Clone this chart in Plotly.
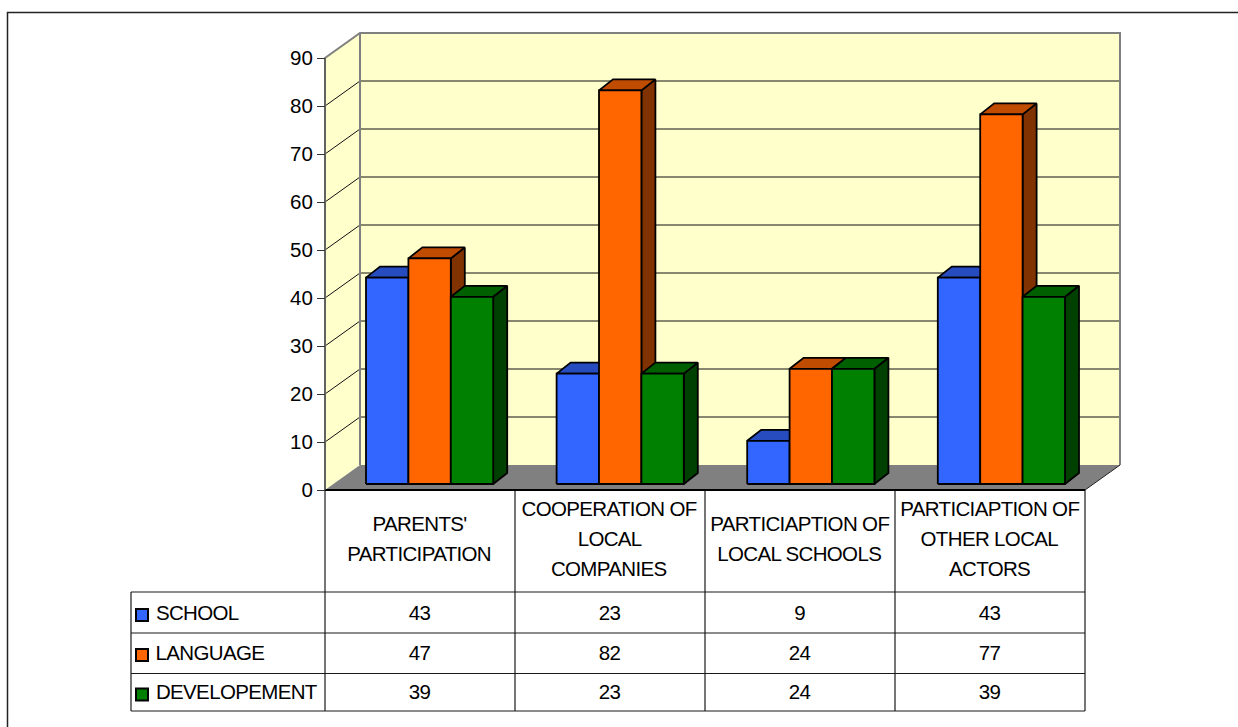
import plotly.graph_objects as go

categories = [
    ["PARENTS'", "PARTICIPATION"],
    ["COOPERATION OF", "LOCAL", "COMPANIES"],
    ["PARTICIAPTION OF", "LOCAL SCHOOLS"],
    ["PARTICIAPTION OF", "OTHER LOCAL", "ACTORS"],
]
school = [43, 23, 9, 43]
language = [47, 82, 24, 77]
developement = [39, 23, 24, 39]
series_names = ["SCHOOL", "LANGUAGE", "DEVELOPEMENT"]
y_ticks = [0, 10, 20, 30, 40, 50, 60, 70, 80, 90]

W, H = 1238, 727
CAT_PX, VAL_PX = 190.0, 4.8   # pixels per category / per value unit
X0, Y0 = 325.0, 490.0         # pixel of category 0 / value 0
FONT = "Liberation Sans, Arial, sans-serif"
FS = 20.5
TRACK = 0.65                  # letter tightening of the table text, px


def ux(p):
    return p / CAT_PX


def uy(p):
    return p / VAL_PX


n_cat = len(categories)
y_max = y_ticks[-1]
wall_dx, wall_dy = ux(35), uy(25)

faces = [
    dict(front="#3366FF", top="#264CBF", side="#1A3380"),
    dict(front="#FF6600", top="#BF4C00", side="#803300"),
    dict(front="#008000", top="#006000", side="#004000"),
]
all_values = [school, language, developement]

fig = go.Figure()


def poly(xs, ys, fill, line=None, width=0, name=""):
    fig.add_trace(go.Scatter(
        x=xs, y=ys, mode="lines", fill="toself", fillcolor=fill,
        line=dict(color=line or fill, width=width), name=name,
        hoverinfo="skip", showlegend=False))


def path(xs, ys, color, width, name=""):
    fig.add_trace(go.Scatter(
        x=xs, y=ys, mode="lines", line=dict(color=color, width=width), name=name,
        hoverinfo="skip", showlegend=False))


# walls and floor
poly([0, wall_dx, wall_dx, 0, 0], [y_max, y_max + wall_dy, wall_dy, 0, y_max], "#FFFFCC", name="side wall")
poly([wall_dx, n_cat + wall_dx, n_cat + wall_dx, wall_dx, wall_dx],
     [wall_dy, wall_dy, y_max + wall_dy, y_max + wall_dy, wall_dy], "#FFFFCC", name="back wall")
poly([0, wall_dx, n_cat + wall_dx, n_cat, 0], [0, wall_dy, wall_dy, 0, 0], "#808080", name="floor")

# gridlines
gx, gy = [], []
for t in y_ticks[1:-1]:
    gx += [0, wall_dx, n_cat + wall_dx, None]
    gy += [t, t + wall_dy, t + wall_dy, None]
path(gx, gy, "#111111", 1, "grid")

# wall outlines
path([0, 0, wall_dx, n_cat + wall_dx, n_cat + wall_dx],
     [0, y_max, y_max + wall_dy, y_max + wall_dy, wall_dy], "#808080", 2, "wall edge")
path([wall_dx, wall_dx], [wall_dy, y_max + wall_dy], "#808080", 2, "wall edge")
path([n_cat, n_cat + wall_dx], [0, wall_dy], "#222222", 1, "floor edge")

# bars
bar_w = ux(42.4)
bar_step = ux(190.6)
bar_off, base = ux(41), uy(6)
d_x, d_y = ux(14), uy(11)
for s, values in enumerate(all_values):
    fx, fy, tx, ty, sx, sy = [], [], [], [], [], []
    for c, v in enumerate(values):
        l = c * bar_step + bar_off + s * bar_w
        r = l + bar_w
        top = base + v
        fx += [l, r, r, l, l, None]
        fy += [base, base, top, top, base, None]
        tx += [l, r, r + d_x, l + d_x, l, None]
        ty += [top, top, top + d_y, top + d_y, top, None]
        sx += [r, r + d_x, r + d_x, r, r, None]
        sy += [base, base + d_y, top + d_y, top, base, None]
    poly(sx, sy, faces[s]["side"], "black", 1.8, series_names[s] + " side")
    poly(tx, ty, faces[s]["top"], "black", 1.8, series_names[s] + " top")
    poly(fx, fy, faces[s]["front"], "black", 1.8, series_names[s])

# table
row_ys = [uy(-102), uy(-143), uy(-183.5), uy(-221)]
leg_x = ux(131 - X0)
tx, ty = [], []
for c in range(n_cat + 1):
    tx += [c, c, None]
    ty += [0, row_ys[-1], None]
tx += [leg_x, leg_x, None]
ty += [row_ys[0], row_ys[-1], None]
for ry in row_ys:
    tx += [leg_x, n_cat, None]
    ty += [ry, ry, None]
path(tx, ty, "#1a1a1a", 1.2, "table")
path([0, n_cat], [0, 0], "black", 2, "baseline")
path([0, 0], [0, y_max], "#555555", 1.4, "axis")

annotations = []


def label(x, y, text, anchor="center"):
    annotations.append(dict(x=x, y=y, xref="x", yref="y", text=text, showarrow=False,
                            xanchor=anchor, yanchor="middle",
                            font=dict(family=FONT, size=FS, color="black")))


col_c = 0.5 - ux(1)
for c, lines in enumerate(categories):
    for j, line in enumerate(lines):
        label(c + col_c, uy(-48 - 30 * (j - (len(lines) - 1) / 2)), line)

row_c = [uy(-122), uy(-162), uy(-201)]
key_c = [uy(-125), uy(-165), uy(-204.5)]
for s, values in enumerate(all_values):
    name = series_names[s]
    label(ux(154 - TRACK / 2 * len(name) - X0), row_c[s], name, "left")
    for c, v in enumerate(values):
        label(c + col_c, row_c[s], str(v))
    fig.add_trace(go.Scatter(
        x=[ux(142 - X0)], y=[key_c[s]], mode="markers", name=name + " key",
        marker=dict(symbol="square", size=12, color=faces[s]["front"], line=dict(color="black", width=2)),
        hoverinfo="skip", showlegend=False))

fig.update_layout(
    width=W, height=H,
    margin=dict(l=0, r=0, t=0, b=0),
    paper_bgcolor="white", plot_bgcolor="white",
    showlegend=False,
    annotations=annotations,
    xaxis=dict(range=[ux(-X0), ux(W - X0)], visible=False, fixedrange=True),
    yaxis=dict(range=[uy(Y0 - H), uy(Y0)], anchor="free", position=X0 / W,
               tickmode="array", tickvals=y_ticks, ticktext=[str(t) for t in y_ticks],
               ticks="outside", ticklen=8, tickwidth=1, tickcolor="#333333",
               showgrid=False, zeroline=False, showline=False, fixedrange=True,
               tickfont=dict(family=FONT, size=FS, color="black")),
    shapes=[dict(type="rect", xref="paper", yref="paper",
                 x0=7.5 / W, x1=1.2, y0=-0.2, y1=1 - 12.5 / H,
                 line=dict(color="#222222", width=1.5), fillcolor="rgba(0,0,0,0)")],
)

fig.write_html("out.html", config=dict(displayModeBar=False),
               post_script="document.body.style.margin='0';document.body.style.overflow='hidden';"
                           "var st=document.createElement('style');"
                           "st.textContent='.annotation-text{letter-spacing:-%spx}';"
                           "document.head.appendChild(st);" % TRACK)
